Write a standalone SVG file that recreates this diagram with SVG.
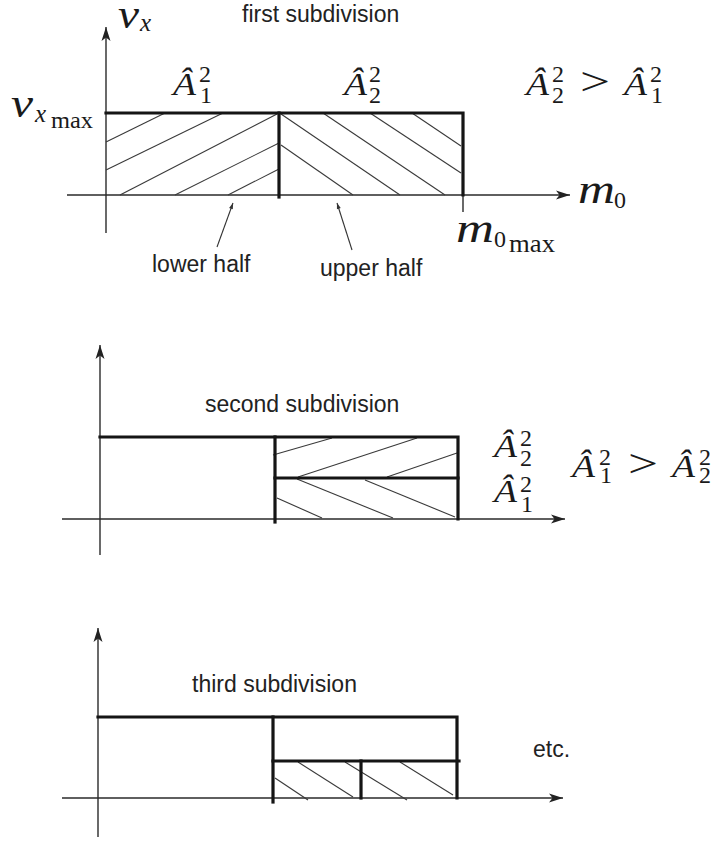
<svg xmlns="http://www.w3.org/2000/svg" width="720" height="842" viewBox="0 0 720 842">
<defs>
<marker id="arr" markerUnits="userSpaceOnUse" markerWidth="16" markerHeight="12" viewBox="-15 -6 16 12" refX="0" refY="0" orient="auto">
<path d="M0,0 L-14,-4.5 L-10.5,0 L-14,4.5 Z" fill="#222"/>
</marker>
<marker id="sarr" markerUnits="userSpaceOnUse" markerWidth="8" markerHeight="6" viewBox="-7 -3 8 6" refX="0" refY="0" orient="auto">
<path d="M0,0 L-6,-2 L-6,2 Z" fill="#333"/>
</marker>
</defs>
<style>
.ax{stroke:#2a2a2a;stroke-width:1.4;fill:none}
.bd{stroke:#151515;stroke-width:3.2;fill:none;stroke-linecap:square}
.ht{stroke:#3a3a3a;stroke-width:1.1;fill:none}
.pt{stroke:#333;stroke-width:1.1;fill:none}
.lb{font-family:"Liberation Sans",Arial,sans-serif;font-size:23px;fill:#222}
.m{font-family:"Liberation Serif","Times New Roman",serif;fill:#1a1a1a}
.i{font-style:italic}
.A{font-size:31px;font-style:italic}
.d{font-size:24px;font-style:normal}
.big{font-size:39px;font-style:italic}
</style>
<rect width="720" height="842" fill="#fff"/>

<g id="panel1">
<line class="ax" x1="106" y1="233" x2="106" y2="27" marker-end="url(#arr)"/>
<line class="ax" x1="67" y1="195" x2="570" y2="195" marker-end="url(#arr)"/>
<line class="ax" x1="463" y1="195" x2="463" y2="212"/>
<g class="ht">
<line x1="106" y1="142" x2="165" y2="113"/>
<line x1="106" y1="170" x2="223" y2="113"/>
<line x1="120" y1="195" x2="277" y2="114"/>
<line x1="175" y1="195" x2="279" y2="143"/>
<line x1="228" y1="195" x2="279" y2="169"/>
<line x1="281" y1="114" x2="400" y2="195"/>
<line x1="281" y1="145" x2="353" y2="195"/>
<line x1="323" y1="113" x2="445" y2="195"/>
<line x1="370" y1="113" x2="461" y2="173"/>
<line x1="412" y1="113" x2="461" y2="146"/>
</g>
<path class="bd" d="M106,113 H463 V195"/>
<line class="bd" x1="279" y1="113" x2="279" y2="197"/>
<text class="lb" x="242" y="22">first subdivision</text>
<g id="label-vx"><text class="m"><tspan class="big" x="118" y="28" textLength="21" lengthAdjust="spacingAndGlyphs">v</tspan><tspan class="i" style="font-size:25px" x="140" y="31">x</tspan></text></g>
<g id="label-vxmax"><text class="m"><tspan class="big" x="11" y="117" textLength="22" lengthAdjust="spacingAndGlyphs">v</tspan><tspan class="i" style="font-size:25px" x="35" y="122">x</tspan><tspan style="font-size:24px" x="51" y="128" textLength="42" lengthAdjust="spacingAndGlyphs">max</tspan></text></g>
<g id="label-A1"><text class="m"><tspan class="A" x="173" y="95" textLength="23" lengthAdjust="spacingAndGlyphs">Â</tspan><tspan class="d" x="199" y="82">2</tspan><tspan class="d" x="200" y="103">1</tspan></text></g>
<g id="label-A2"><text class="m"><tspan class="A" x="344" y="95" textLength="23" lengthAdjust="spacingAndGlyphs">Â</tspan><tspan class="d" x="369" y="82">2</tspan><tspan class="d" x="369" y="103">2</tspan></text></g>
<g id="label-ineq1"><text class="m"><tspan class="A" x="526" y="95" textLength="23" lengthAdjust="spacingAndGlyphs">Â</tspan><tspan class="d" x="552" y="82">2</tspan><tspan class="d" x="552" y="103">2</tspan><tspan style="font-size:40px" x="580" y="95" textLength="30" lengthAdjust="spacingAndGlyphs">&gt;</tspan><tspan class="A" x="624" y="95" textLength="23" lengthAdjust="spacingAndGlyphs">Â</tspan><tspan class="d" x="650" y="82">2</tspan><tspan class="d" x="651" y="103">1</tspan></text></g>
<g id="label-m0"><text class="m"><tspan class="big" x="578" y="203" textLength="37" lengthAdjust="spacingAndGlyphs">m</tspan><tspan class="d" x="614" y="208">0</tspan></text></g>
<g id="label-m0max"><text class="m"><tspan class="big" x="456" y="242" textLength="38" lengthAdjust="spacingAndGlyphs">m</tspan><tspan class="d" x="494" y="247">0</tspan><tspan style="font-size:25px" x="509" y="252" textLength="46" lengthAdjust="spacingAndGlyphs">max</tspan></text></g>
<g id="label-lower"><text class="lb" x="152" y="272">lower half</text></g>
<g id="label-upper"><text class="lb" x="320" y="276">upper half</text></g>
</g>

<g id="connectors">
<line class="pt" x1="217" y1="247" x2="233" y2="203" marker-end="url(#sarr)"/>
<line class="pt" x1="352" y1="250" x2="337" y2="203" marker-end="url(#sarr)"/>
</g>

<g id="panel2">
<line class="ax" x1="100" y1="555" x2="100" y2="345" marker-end="url(#arr)"/>
<line class="ax" x1="62" y1="519" x2="565" y2="519" marker-end="url(#arr)"/>
<g class="ht">
<line x1="273" y1="455" x2="332" y2="438"/>
<line x1="298" y1="477" x2="417" y2="438"/>
<line x1="387" y1="477" x2="457" y2="453"/>
<line x1="277" y1="498" x2="322" y2="518"/>
<line x1="297" y1="479" x2="393" y2="518"/>
<line x1="365" y1="480" x2="455" y2="517"/>
</g>
<path class="bd" d="M100,437 H458 V519"/>
<line class="bd" x1="275" y1="437" x2="275" y2="522"/>
<line class="bd" x1="275" y1="478" x2="458" y2="478"/>
<text class="lb" x="205" y="412">second subdivision</text>
<g id="label-A2b"><text class="m"><tspan class="A" x="494" y="457" textLength="23" lengthAdjust="spacingAndGlyphs">Â</tspan><tspan class="d" x="520" y="446">2</tspan><tspan class="d" x="520" y="466">2</tspan><tspan class="A" x="494" y="502" textLength="23" lengthAdjust="spacingAndGlyphs">Â</tspan><tspan class="d" x="520" y="492">2</tspan><tspan class="d" x="521" y="512">1</tspan></text></g>
<g id="label-ineq2"><text class="m"><tspan class="A" x="572" y="477" textLength="23" lengthAdjust="spacingAndGlyphs">Â</tspan><tspan class="d" x="599" y="465">2</tspan><tspan class="d" x="600" y="483">1</tspan><tspan style="font-size:40px" x="628" y="477" textLength="30" lengthAdjust="spacingAndGlyphs">&gt;</tspan><tspan class="A" x="672" y="477" textLength="23" lengthAdjust="spacingAndGlyphs">Â</tspan><tspan class="d" x="699" y="465">2</tspan><tspan class="d" x="699" y="483">2</tspan></text></g>
</g>

<g id="panel3">
<line class="ax" x1="98" y1="837" x2="98" y2="628" marker-end="url(#arr)"/>
<line class="ax" x1="62" y1="798" x2="563" y2="798" marker-end="url(#arr)"/>
<g class="ht">
<line x1="275" y1="778" x2="308" y2="800"/>
<line x1="298" y1="762" x2="353" y2="797"/>
<line x1="345" y1="762" x2="407" y2="800"/>
<line x1="400" y1="762" x2="453" y2="795"/>
</g>
<path class="bd" d="M98,717 H457 V798"/>
<line class="bd" x1="273" y1="717" x2="273" y2="802"/>
<line class="bd" x1="273" y1="761" x2="459" y2="761"/>
<line class="bd" x1="361" y1="761" x2="361" y2="798"/>
<text class="lb" x="192" y="692">third subdivision</text>
<text class="lb" x="533" y="757">etc.</text>
</g>
</svg>
